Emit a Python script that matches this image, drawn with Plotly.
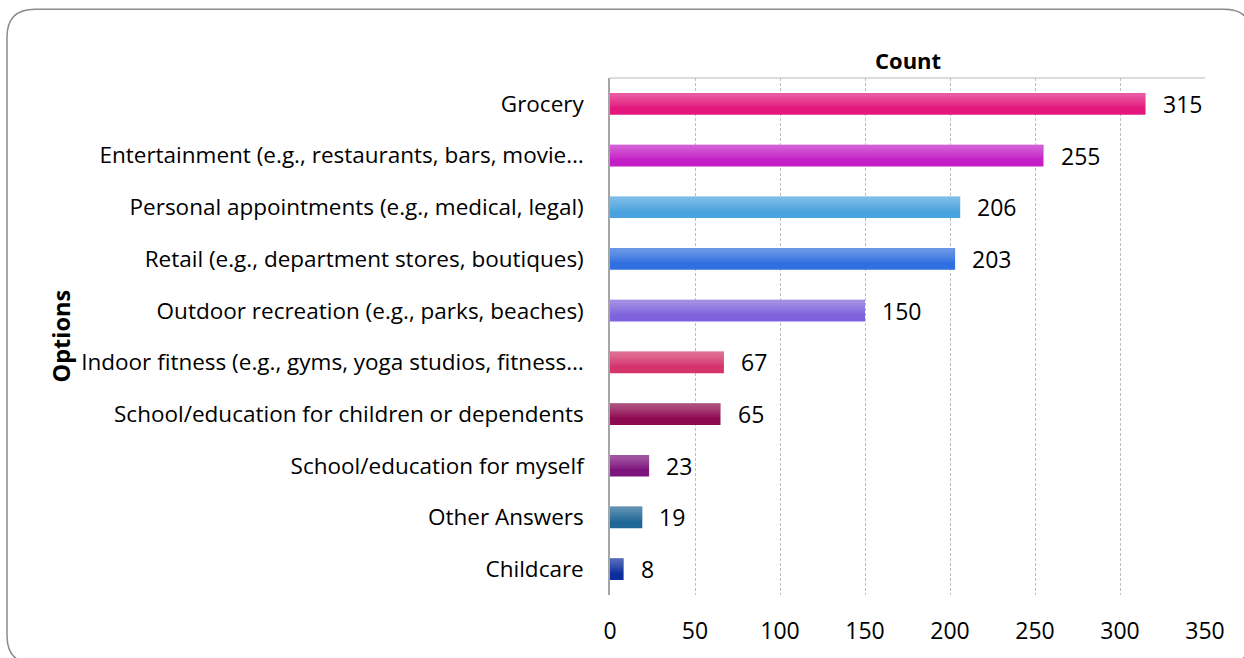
import plotly.graph_objects as go

# Survey results: count of respondents per option
categories = [
    "Grocery",
    "Entertainment (e.g., restaurants, bars, movie…",
    "Personal appointments (e.g., medical, legal)",
    "Retail (e.g., department stores, boutiques)",
    "Outdoor recreation (e.g., parks, beaches)",
    "Indoor fitness (e.g., gyms, yoga studios, fitness…",
    "School/education for children or dependents",
    "School/education for myself",
    "Other Answers",
    "Childcare",
]
counts = [315, 255, 206, 203, 150, 67, 65, 23, 19, 8]
bar_colors = [
    "#E3177E", "#C41FC6", "#4AA3DF", "#2F6FE0", "#7F62DD",
    "#D4336B", "#8E0A50", "#7D137D", "#1E6696", "#0C2E9E",
]
x_ticks = [0, 50, 100, 150, 200, 250, 300, 350]

W, H = 1244, 658
L, R, T, B = 610, 39, 78, 61
PW, PH = W - L - R, H - T - B
FONT = "'Open Sans', 'Noto Sans', sans-serif"
FS_CAT = 22.5
FS_NUM = 23
BAR_W = 0.42


def px_x(px):
    return (px - L) / PW


def px_y(py):
    return (H - B - py) / PH


fig = go.Figure()

fig.add_trace(go.Bar(
    y=categories, x=counts, orientation="h",
    marker=dict(color=bar_colors, line=dict(width=0)),
    width=BAR_W, hoverinfo="x+y", showlegend=False,
))

# soft highlight fading toward the bottom of each bar
for frac in [0.65, 0.55, 0.45, 0.35, 0.25, 0.15]:
    fig.add_trace(go.Bar(
        y=categories, x=counts, orientation="h",
        marker=dict(color="white", opacity=0.055, line=dict(width=0)),
        width=BAR_W * frac, offset=-BAR_W / 2,
        hoverinfo="skip", showlegend=False,
    ))

# value labels to the right of each bar
for cat, v in zip(categories, counts):
    fig.add_annotation(
        x=v, y=cat, xref="x", yref="y", text=str(v),
        showarrow=False, xanchor="left", yanchor="middle",
        xshift=15, font=dict(family=FONT, size=FS_NUM, color="#000000"),
    )

fig.add_annotation(
    x=0.5, y=px_y(60), xref="paper", yref="paper", text="<b>Count</b>",
    showarrow=False, xanchor="center", yanchor="middle",
    font=dict(family=FONT, size=22, color="#000000"),
)
fig.add_annotation(
    x=px_x(60), y=0.5, xref="paper", yref="paper", text="<b>Options</b>",
    showarrow=False, textangle=-90, xanchor="center", yanchor="middle",
    font=dict(family=FONT, size=23.5, color="#000000"),
)

# axis line along the top of the plot area
fig.add_shape(type="line", xref="paper", yref="paper",
              x0=0, x1=1, y0=1, y1=1, line=dict(color="#B8B8B8", width=1))

# rounded outer frame
x0, x1 = px_x(7), px_x(1252)
y0, y1 = px_y(9), px_y(666)
rx, ry = 28 / PW, 28 / PH
path = (
    f"M {x0},{y1 + ry} L {x0},{y0 - ry} Q {x0},{y0} {x0 + rx},{y0} "
    f"L {x1 - rx},{y0} Q {x1},{y0} {x1},{y0 - ry} "
    f"L {x1},{y1 + ry} Q {x1},{y1} {x1 - rx},{y1} "
    f"L {x0 + rx},{y1} Q {x0},{y1} {x0},{y1 + ry} Z"
)
fig.add_shape(type="path", path=path, xref="paper", yref="paper",
              line=dict(color="#8C8C8C", width=1.5), layer="below")

fig.update_layout(
    width=W, height=H,
    margin=dict(l=L, r=R, t=T, b=B),
    paper_bgcolor="white", plot_bgcolor="white",
    barmode="overlay",
    font=dict(family=FONT, size=FS_CAT, color="#000000"),
    xaxis=dict(
        range=[0, 350], tickvals=x_ticks, showgrid=True,
        gridcolor="#BDBDBD", griddash="3px,2px", gridwidth=1,
        zeroline=False, showline=False, ticks="",
        ticklabelstandoff=20, tickfont=dict(family=FONT, size=FS_NUM),
        fixedrange=True,
    ),
    yaxis=dict(
        autorange="reversed", showgrid=False, zeroline=False,
        showline=True, linecolor="#A6A6A6", linewidth=1.5,
        ticks="", ticklabelstandoff=20,
        tickfont=dict(family=FONT, size=FS_CAT), fixedrange=True,
    ),
)

fig.write_html("out.html")
